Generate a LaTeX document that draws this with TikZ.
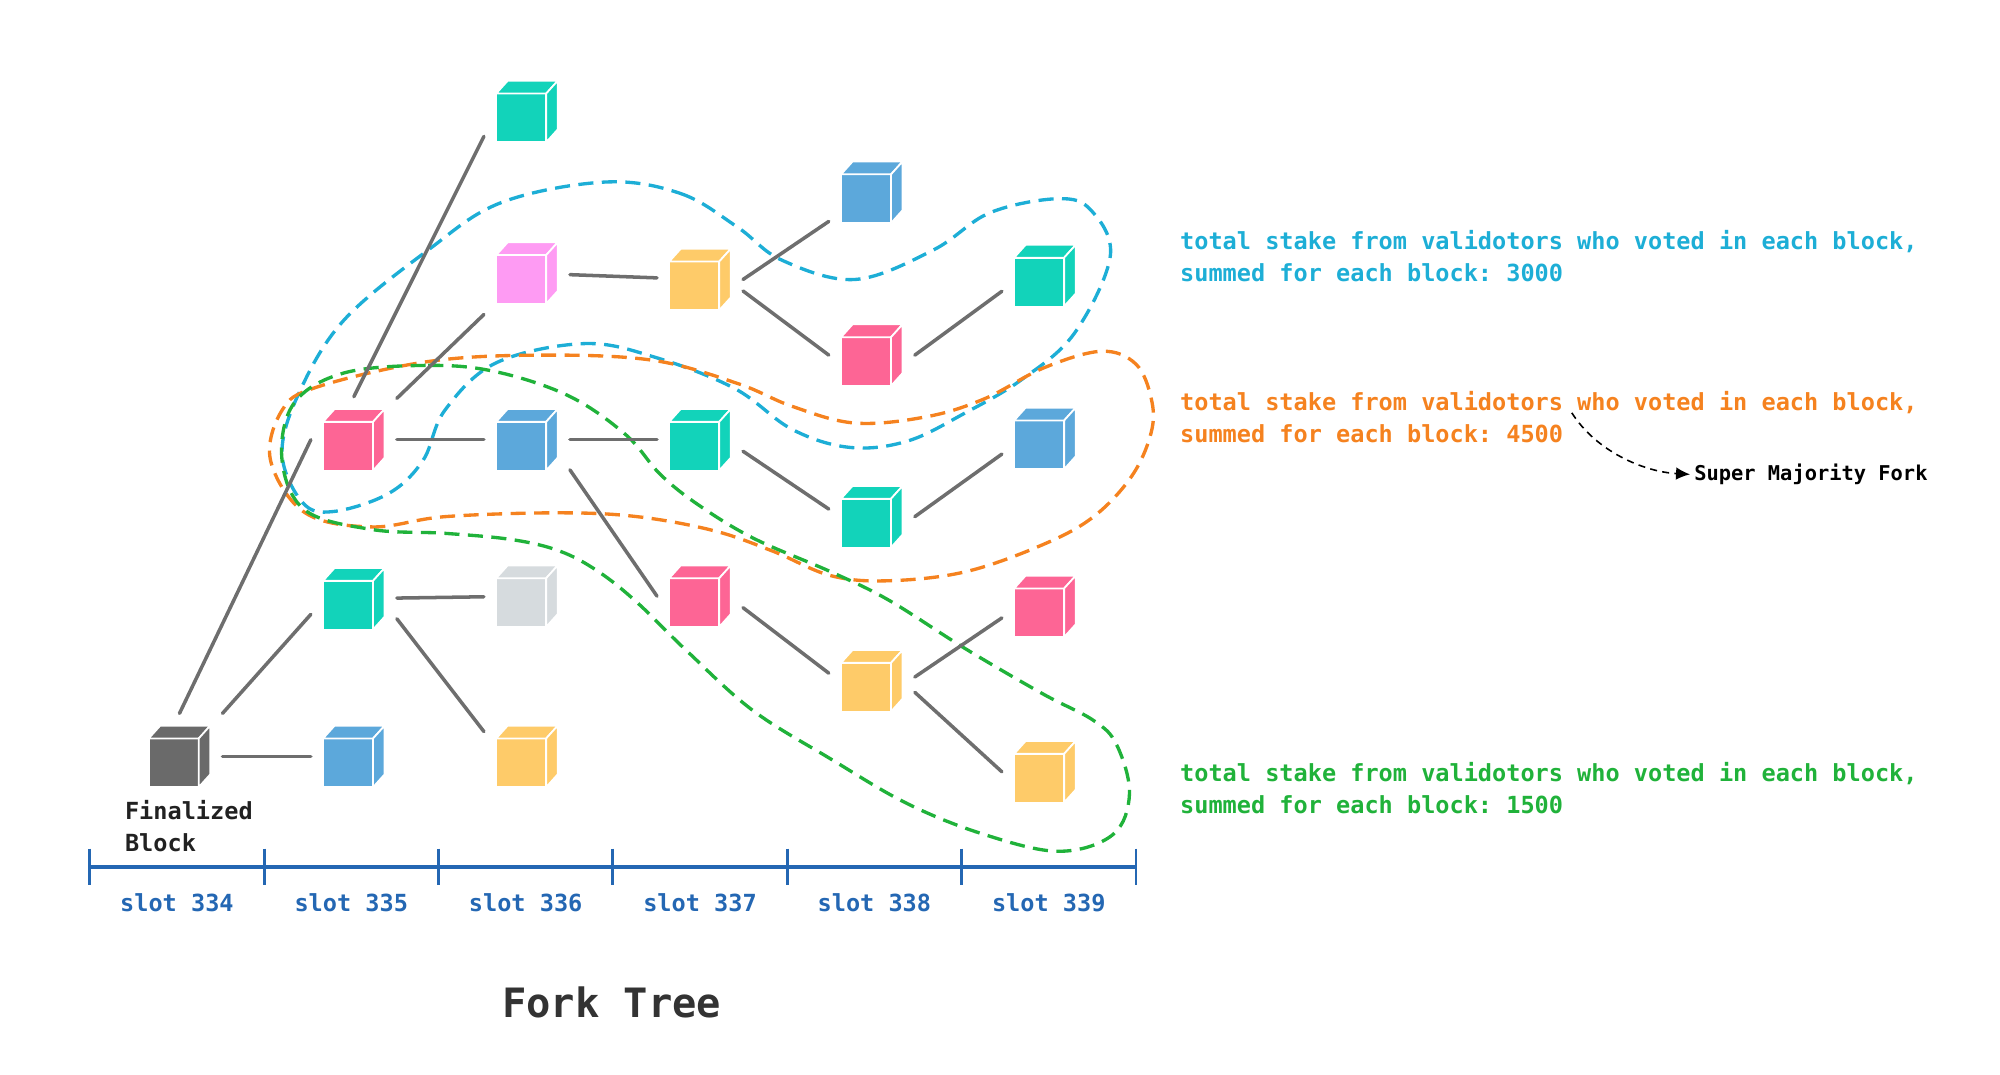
\documentclass[tikz,border=0pt]{standalone}
\usepackage{fontspec}
\setmonofont{DejaVu Sans Mono}
\usepackage{xcolor}
\usepackage{tikz}
\usetikzlibrary{arrows.meta}
\definecolor{CubeTeal}{HTML}{12D3BA}
\definecolor{CubePink}{HTML}{FD6595}
\definecolor{CubeBlue}{HTML}{5CA8DB}
\definecolor{CubeYellow}{HTML}{FECB69}
\definecolor{CubeViolet}{HTML}{FE9BF3}
\definecolor{CubeGray}{HTML}{D6DBDE}
\definecolor{CubeDark}{HTML}{6A6A6A}
\definecolor{LinkGray}{HTML}{6E6E6E}
\definecolor{StakeCyan}{HTML}{1DAED6}
\definecolor{StakeOrange}{HTML}{F5821F}
\definecolor{StakeGreen}{HTML}{20B23A}
\definecolor{SlotBlue}{HTML}{2467B3}
\definecolor{TitleGray}{HTML}{333333}

\tikzset{%
  link/.style={draw=LinkGray, line width=1pt, line cap=round},%
  forkloop/.style={line width=0.95pt, dash pattern=on 4.3pt off 2.4pt},%
  cubenode/.style={minimum width=0.62cm, minimum height=0.62cm, inner sep=0pt, outer sep=0.12cm},%
  stakenote/.style={font=\ttfamily\bfseries\fontsize{6.7}{9.1}\selectfont, align=left, inner sep=0pt, anchor=west},%
  slotnote/.style={font=\ttfamily\bfseries\fontsize{6.7}{9.1}\selectfont, text=SlotBlue, inner sep=0pt},%
  slotaxis/.style={draw=SlotBlue, line width=1.1pt},%
  slottick/.style={draw=SlotBlue, line width=0.8pt}%
}

% block cube: name, x, y, colour
\newcommand{\forkcube}[4]{%
  \begin{scope}[shift={(#2,#3)}]%
  \filldraw[fill=#4, draw=white, line width=0.5pt] (-24,-14) rectangle (15,24);%
  \filldraw[fill=#4, draw=white, line width=0.5pt] (-24,-14) -- (-15,-24) -- (24,-24) -- (15,-14) -- cycle;%
  \filldraw[fill=#4, draw=white, line width=0.5pt] (15,-14) -- (24,-24) -- (24,14) -- (15,24) -- cycle;%
  \end{scope}%
  \node[cubenode] (#1) at (#2,#3) {};%
}

\begin{document}
\begin{tikzpicture}[x=0.01282cm, y=-0.01282cm]%
\useasboundingbox (0,0) rectangle (1560,838);%
% fork loops
\draw[forkloop, StakeCyan] plot[smooth cycle, tension=0.6] coordinates {(472,142) (531,151) (575,177) (610,203) (667,218) (728,195) (772,166) (825,155) (851,164) (866,200) (838,260) (797,296) (753,322) (708,344) (663,349) (618,335) (573,303) (512,279) (456,268) (387,283) (347,320) (330,359) (303,385) (260,399) (236,392) (220,354) (233,307) (268,250) (334,195) (391,158)};%
\draw[forkloop, StakeOrange] plot[smooth cycle, tension=0.6] coordinates {(334,282) (422,277) (509,281) (575,299) (618,317) (667,330) (723,325) (768,311) (814,287) (859,274) (886,284) (898,311) (898,337) (883,371) (853,403) (813,425) (753,446) (693,453) (648,449) (603,430) (557,414) (497,403) (435,400) (347,403) (290,411) (238,400) (211,359) (220,320) (247,302)};%
\draw[forkloop, StakeGreen] plot[smooth cycle, tension=0.6] coordinates {(268,291) (334,285) (387,290) (444,309) (488,339) (515,370) (545,394) (588,420) (648,446) (693,468) (753,506) (813,541) (853,562) (871,581) (881,619) (868,651) (826,664) (768,651) (708,627) (648,592) (587,554) (536,508) (497,470) (467,446) (437,430) (400,421) (347,416) (290,413) (238,398) (220,359) (229,315)};%
% blocks
\forkcube{fin}{140}{590}{CubeDark}%
\forkcube{pk335}{276}{343}{CubePink}%
\forkcube{tq335}{276}{467}{CubeTeal}%
\forkcube{bl335}{276}{590}{CubeBlue}%
\forkcube{tq336}{411}{87}{CubeTeal}%
\forkcube{vi336}{411}{213}{CubeViolet}%
\forkcube{bl336}{411}{343}{CubeBlue}%
\forkcube{gy336}{411}{465}{CubeGray}%
\forkcube{yl336}{411}{590}{CubeYellow}%
\forkcube{yl337}{546}{218}{CubeYellow}%
\forkcube{tq337}{546}{343}{CubeTeal}%
\forkcube{pk337}{546}{465}{CubePink}%
\forkcube{bl338}{680}{150}{CubeBlue}%
\forkcube{pk338}{680}{277}{CubePink}%
\forkcube{tq338}{680}{403}{CubeTeal}%
\forkcube{yl338}{680}{531}{CubeYellow}%
\forkcube{tq339}{815}{215}{CubeTeal}%
\forkcube{bl339}{815}{342}{CubeBlue}%
\forkcube{pk339}{815}{473}{CubePink}%
\forkcube{yl339}{815}{602}{CubeYellow}%
% links
\draw[link] (fin) -- (bl335);%
\draw[link] (fin.north east) -- (tq335.200);%
\draw[link] (fin.north) -- (pk335.west);%
\draw[link] (pk335.north) -- (tq336.210);%
\draw[link] (pk335) -- (vi336);%
\draw[link] (pk335) -- (bl336);%
\draw[link] (tq335) -- (gy336);%
\draw[link] (tq335.-25) -- (yl336.150);%
\draw[link] (vi336) -- (yl337);%
\draw[link] (bl336) -- (tq337);%
\draw[link] (bl336.-35) -- (pk337.west);%
\draw[link] (yl337.east) -- (bl338);%
\draw[link] (yl337.-15) -- (pk338.west);%
\draw[link] (tq337.-15) -- (tq338.170);%
\draw[link] (pk337.-15) -- (yl338.170);%
\draw[link] (pk338.east) -- (tq339.200);%
\draw[link] (tq338.east) -- (bl339.200);%
\draw[link] (yl338.5) -- (pk339.195);%
\draw[link] (yl338.-15) -- (yl339.west);%
% slot axis
\draw[slotaxis] (70,676) -- (886,676);%
\foreach \i in {0,...,6} {\draw[slottick] ({70+136*\i},662) -- ({70+136*\i},690);}%
\foreach \s [count=\i from 0] in {334,...,339} {\node[slotnote] (slot\s) at ({138+136*\i},704) {slot \s};}%
\node[stakenote, text=black!87] (finnote) at (97,644.5) {Finalized\\Block};%
% stake notes
\node[stakenote, text=StakeCyan] (cyannote) at (920,199.5) {total stake from validotors who voted in each block,\\summed for each block: 3000};%
\node[stakenote, text=StakeOrange] (orangenote) at (920,325.5) {total stake from validotors who voted in each block,\\summed for each block: 4500};%
\node[stakenote, text=StakeGreen] (greennote) at (920,614.5) {total stake from validotors who voted in each block,\\summed for each block: 1500};%
\node[font=\ttfamily\bfseries\fontsize{5.8}{7}\selectfont, anchor=west, inner sep=0pt] (smf) at (1321,370) {Super Majority Fork};%
\coordinate (smfstart) at (1226,322);%
\draw[line width=0.45pt, dash pattern=on 2pt off 1.5pt, -{Latex[length=4pt,width=3.6pt]}] (smfstart) .. controls (1245,352) and (1282,368) .. ([xshift=-1pt]smf.west);%
\node[font=\ttfamily\bfseries\fontsize{11.5}{13}\selectfont, text=TitleGray] (forktitle) at (477,782) {Fork Tree};%
\end{tikzpicture}
\end{document}
